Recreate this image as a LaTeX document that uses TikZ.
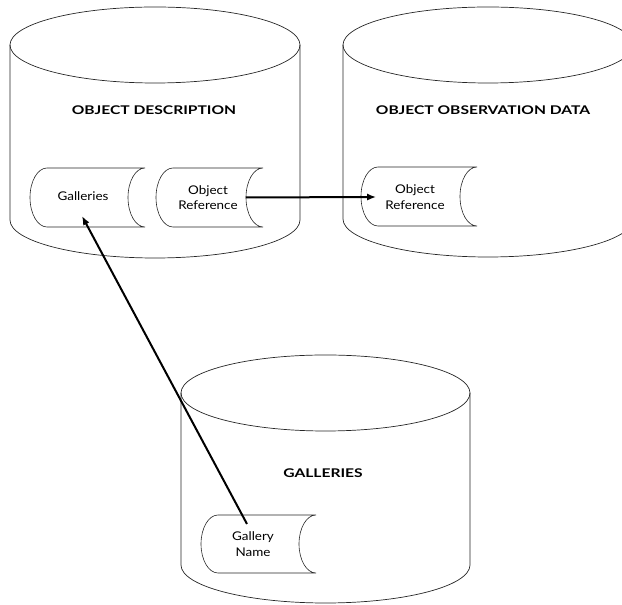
\documentclass[tikz,border=0pt]{standalone}
\usepackage{fontspec}
\setmainfont{Lato}
\newfontfamily\hdrfont[FakeStretch=1.3]{Lato}
\newfontfamily\lblfont[FakeStretch=1.12]{Lato}
\usetikzlibrary{arrows.meta}
\newcommand\storeshape[4]{%
  \draw[storeline] (#1+17,#3) -- (#2,#3)
    arc[start angle=90,end angle=270,x radius=17,y radius={(#3-#4)/2}]
    -- (#1+17,#4)
    arc[start angle=270,end angle=90,x radius=17,y radius={(#3-#4)/2}] -- cycle;}
\newcommand\cylshape[5]{% cx, rx, topY, botY, ry
  \draw[cylline] (#1-#2,#3) -- (#1-#2,#4)
    arc[start angle=180,end angle=360,x radius=#2,y radius=#5] -- (#1+#2,#3);
  \draw[cylline] (#1,#3) ellipse[x radius=#2,y radius=#5];}
\tikzset{
  cylline/.style={line width=0.7pt,draw=black!85},
  storeline/.style={line width=0.6pt,draw=black!85},
  hdr/.style={font=\hdrfont\bfseries\fontsize{12}{14}\selectfont,inner sep=0pt},
  lbl/.style={font=\lblfont\fontsize{12}{15.5}\selectfont,align=center,inner sep=8pt},
  link/.style={line width=2pt,-{Latex[length=9pt,width=7pt]}}
}
\begin{document}
\begin{tikzpicture}[x=1pt,y=1pt]
\useasboundingbox (0,0) rectangle (622,605);
\clip (0,0) rectangle (622,605);
% cylinders
\cylshape{155}{145}{560}{385}{38}
\cylshape{488}{145}{560}{386}{38}
\cylshape{325.5}{144.5}{212}{40}{38}
% headers
\node[hdr] (h1) at (154,495) {OBJECT DESCRIPTION};
\node[hdr] (h2) at (483,495) {OBJECT OBSERVATION DATA};
\node[hdr] (h3) at (323,132) {GALLERIES};
% store shapes
\storeshape{30}{145}{437}{378}
\storeshape{156}{263}{437}{378}
\storeshape{361}{477}{438}{379}
\storeshape{201}{316}{90}{32}
\node[lbl] (gal) at (83,409) {Galleries};
\node[lbl] (or1) at (208,407.5) {Object\\Reference};
\node[lbl] (or2) at (415,408) {Object\\Reference};
\node[lbl] (gn) at (253,61) {Gallery\\Name};
% connectors
\draw[link] (or1.east) -- ([xshift=-1pt]or2.west);
\draw[link] ([xshift=-6pt,yshift=20pt]gn.center) -- ([xshift=-1pt,yshift=-20pt]gal.center);
\end{tikzpicture}
\end{document}
